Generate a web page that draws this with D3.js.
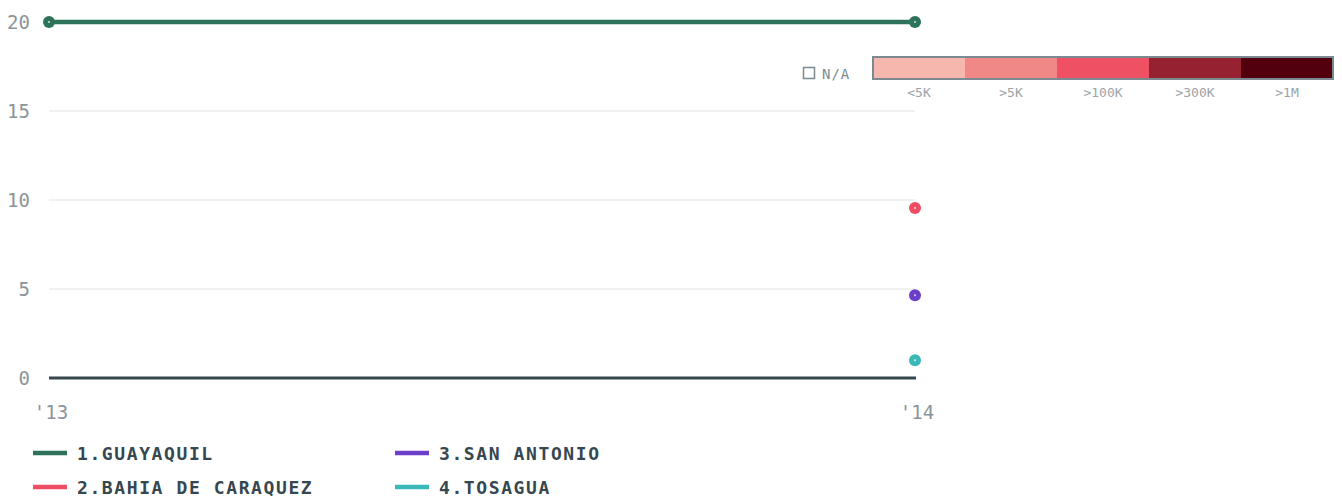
<!DOCTYPE html>
<html>
<head>
<meta charset="utf-8">
<script src="https://cdn.jsdelivr.net/npm/d3@7"></script>
<style>
  body { margin: 0; background: #fff; }
  svg { font-family: "DejaVu Sans Mono", monospace; }
</style>
</head>
<body>
<svg id="chart" width="1342" height="498"></svg>
<script>
// data
const years = ["'13", "'14"];
const yTicks = [0, 5, 10, 15, 20];
const cities = ["1.GUAYAQUIL", "2.BAHIA DE CARAQUEZ", "3.SAN ANTONIO", "4.TOSAGUA"];
const cityColors = ["#2d735a", "#ee4d63", "#6c3fc9", "#3bb9b9"];
const guayaquil = [20, 20];
const bahia = [null, 9.55];
const sanAntonio = [null, 4.65];
const tosagua = [null, 1.0];
const series = [guayaquil, bahia, sanAntonio, tosagua];

const scaleLabels = ["<5K", ">5K", ">100K", ">300K", ">1M"];
const scaleColors = ["#f5b7ae", "#f08888", "#f05064", "#962231", "#52000d"];

const svg = d3.select("#chart");

const x = d3.scalePoint().domain(years).range([49, 915]);
const y = d3.scaleLinear().domain([0, 20]).range([378, 22]);

// gridlines
svg.append("g")
  .selectAll("line")
  .data(yTicks.filter(d => d > 0))
  .join("line")
  .attr("x1", 49).attr("x2", 915)
  .attr("y1", d => y(d)).attr("y2", d => y(d))
  .attr("stroke", "#ebebeb")
  .attr("stroke-width", 1.5);

// y labels
svg.append("g")
  .selectAll("text")
  .data(yTicks)
  .join("text")
  .attr("x", 30)
  .attr("y", d => y(d) + 7)
  .attr("text-anchor", "end")
  .attr("fill", "#8a9499")
  .attr("font-size", 19)
  .text(d => d);

// zero line
svg.append("line")
  .attr("x1", 49).attr("x2", 916)
  .attr("y1", y(0)).attr("y2", y(0))
  .attr("stroke", "#37474f")
  .attr("stroke-width", 3);

// x labels
svg.append("g")
  .selectAll("text")
  .data(years)
  .join("text")
  .attr("x", d => x(d) + 2)
  .attr("y", 419)
  .attr("text-anchor", "middle")
  .attr("fill", "#8a9499")
  .attr("font-size", 19)
  .text(d => d);

// lines and dots
series.forEach((vals, i) => {
  const pts = years.map((yr, j) => ({ yr, v: vals[j] })).filter(p => p.v != null);
  if (pts.length > 1) {
    svg.append("path")
      .datum(pts)
      .attr("fill", "none")
      .attr("stroke", cityColors[i])
      .attr("stroke-width", 4.5)
      .attr("d", d3.line().x(p => x(p.yr)).y(p => y(p.v)));
  }
  const g = svg.append("g");
  g.selectAll("circle.dot")
    .data(pts)
    .join("circle")
    .attr("class", "dot")
    .attr("cx", p => x(p.yr))
    .attr("cy", p => y(p.v))
    .attr("r", 6)
    .attr("fill", cityColors[i]);
  g.selectAll("circle.c")
    .data(pts)
    .join("circle")
    .attr("class", "c")
    .attr("cx", p => x(p.yr))
    .attr("cy", p => y(p.v))
    .attr("r", 1)
    .attr("fill", "#fff")
    .attr("opacity", 0.8);
});

// legend
const leg = svg.append("g");
cities.forEach((c, i) => {
  const lx = i < 2 ? 33 : 395;
  const ly = i % 2 === 0 ? 453 : 487;
  leg.append("line")
    .attr("x1", lx).attr("x2", lx + 34)
    .attr("y1", ly).attr("y2", ly)
    .attr("stroke", cityColors[i])
    .attr("stroke-width", 4.5);
  leg.append("text")
    .attr("x", lx + 44)
    .attr("y", ly + 6.5)
    .attr("fill", "#37474f")
    .attr("font-size", 18)
    .attr("font-weight", "bold")
    .attr("letter-spacing", 1.6)
    .text(c);
});

// color scale legend
const sx = d3.scaleBand().domain(scaleLabels).range([873, 1333]);
const cs = svg.append("g");
cs.selectAll("rect")
  .data(scaleLabels)
  .join("rect")
  .attr("x", d => sx(d))
  .attr("y", 57)
  .attr("width", sx.bandwidth())
  .attr("height", 22)
  .attr("fill", (d, i) => scaleColors[i]);
cs.append("rect")
  .attr("x", 873).attr("y", 57)
  .attr("width", 460).attr("height", 22)
  .attr("fill", "none")
  .attr("stroke", "#7b8a90")
  .attr("stroke-width", 2);
cs.selectAll("text")
  .data(scaleLabels)
  .join("text")
  .attr("x", d => sx(d) + sx.bandwidth() / 2)
  .attr("y", 97)
  .attr("text-anchor", "middle")
  .attr("fill", "#9aa4a8")
  .attr("font-size", 13)
  .text(d => d);

// N/A
cs.append("rect")
  .attr("x", 803.5).attr("y", 67.5)
  .attr("width", 11).attr("height", 11)
  .attr("fill", "none")
  .attr("stroke", "#7b8a90")
  .attr("stroke-width", 1.5);
cs.append("text")
  .attr("x", 822).attr("y", 79)
  .attr("fill", "#7b8a90")
  .attr("font-size", 14)
  .attr("letter-spacing", 1)
  .text("N/A");
</script>
</body>
</html>
